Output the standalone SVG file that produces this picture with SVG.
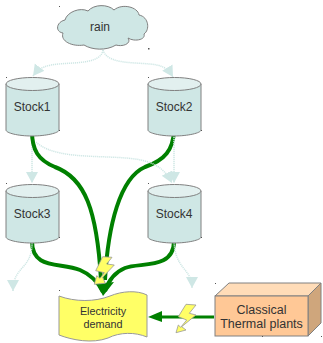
<svg xmlns="http://www.w3.org/2000/svg" width="323" height="343" viewBox="0 0 323 343">
<defs>
<marker id="pale" markerUnits="userSpaceOnUse" markerWidth="13" markerHeight="13" refX="11" refY="6" orient="auto"><path d="M0 0L11 6L0 12Z" fill="#cfe7e5"/></marker>
</defs>
<style>
text{font-family:"Liberation Sans",Arial,sans-serif;font-size:12px;fill:#333;text-anchor:middle}
.body{fill:#cfe7e5;stroke:#808080;stroke-width:1}
.top{fill:#e2f0ef;stroke:#808080;stroke-width:1}
.d{fill:none;stroke:#cfe7e5;stroke-width:1.500;stroke-dasharray:1.200 .8}
.g{fill:none;stroke:#008000;stroke-width:4}
.bolt{fill:#ffff66;stroke:#999;stroke-width:.8}
.dot{fill:#555}
</style>
<g id="connectors">
<path class="d" d="M32 131V183" marker-end="url(#pale)"/>
<path class="g" d="M32 131C32 150 38 160 55 167C85 178 97 210 101 280"/>
<path class="g" d="M174 131C173 150 165 160 145 167C120 178 108 225 105 280"/>
<path class="g" d="M32 241C32 270 60 262 80 270C92 275 98 282 103 292"/>
<path class="g" d="M174 241C174 270 140 262 125 268C113 273 108 282 105 291"/>
<path d="M97 284L114 282L103 296Z" fill="#008000"/>
<path class="g" style="stroke-width:3" d="M214 317H160"/>
<path d="M162 311L148 317L162 322Z" fill="#008000"/>
<path class="d" d="M103 50C100 68 60 60 44 67C39 69 36 72 33 76" marker-end="url(#pale)"/>
<path class="d" d="M103 50C108 68 150 60 163 67C167 69 170 72 173 77" marker-end="url(#pale)"/>
<path class="d" d="M174 131V183" marker-end="url(#pale)"/>
<path class="d" d="M36 142C60 165 130 150 155 165C163 169 168 175 172 183" marker-end="url(#pale)"/>
<path class="d" d="M32 241C33 270 13 265 13 291" marker-end="url(#pale)"/>
<path class="d" d="M174 241C175 270 192 268 192 288" marker-end="url(#pale)"/>
</g>
<g id="rain">
<path class="body" d="M65 20C67 12 80 7 88 11C94 4 108 4 114 10C122 3 138 7 139 15C149 17 150 30 144 34C146 40 134 42 128 38C132 44 122 47 116 45C106 51 92 50 84 45C72 47 60 41 63 33C55 32 56 22 65 20Z"/>
<text x="100" y="31">rain</text>
</g>
<g id="stock1"><path class="body" d="M6 84V130C6 133 18 136 32 136S59 133 59 130V84Z"/><ellipse class="top" cx="32.500" cy="84" rx="26.500" ry="6.500"/><text x="32" y="111">Stock1</text></g>
<g id="stock2"><path class="body" d="M148 84V130C148 133 160 136 174 136S201 133 201 130V84Z"/><ellipse class="top" cx="174.500" cy="84" rx="26.500" ry="6.500"/><text x="174" y="111">Stock2</text></g>
<g id="stock3"><path class="body" d="M6 191V237C6 240 18 243 32 243S59 240 59 237V191Z"/><ellipse class="top" cx="32.500" cy="191" rx="26.500" ry="6.500"/><text x="32" y="218">Stock3</text></g>
<g id="stock4"><path class="body" d="M148 191V237C148 240 160 243 174 243S201 240 201 237V191Z"/><ellipse class="top" cx="174.500" cy="191" rx="26.500" ry="6.500"/><text x="174" y="218">Stock4</text></g>
<g id="demand">
<path d="M59 296C75 302 95 302 110 296C122 291 137 290 147 295V337C135 332 120 332 108 338C92 344 72 340 59 335Z" fill="#ffff66" stroke="#999"/>
<text x="103" y="315" style="font-size:10.800px">Electricity</text>
<text x="103" y="327.500" style="font-size:10.800px">demand</text>
</g>
<g id="thermal">
<path d="M215 296L229 283H321L308 296Z" fill="#ffdcb8" stroke="#808080"/>
<path d="M308 296L321 283V323L308 336Z" fill="#cfa67c" stroke="#808080"/>
<rect x="215" y="296" width="93" height="40" fill="#ffc896" stroke="#808080"/>
<text x="261.500" y="314" style="font-size:12.500px">Classical</text>
<text x="261.500" y="328" style="font-size:12.500px">Thermal plants</text>
</g>
<g id="bolt1"><path class="bolt" d="M102.700 256.700L112 257.300L106.700 264L114.300 265L102.700 277.300L105.300 283.300L94.300 284.300L96.700 275.700L100 278.300L104.300 272.700L95.700 270.700Z"/></g>
<g id="bolt2"><path class="bolt" d="M186 304.300L196 305L189.300 313.300L196 315L181.700 326.700L186 330L176 332.700L178.300 325L180.700 327.300L186.700 320L178.300 316.700Z"/></g>
<g id="dots">
<rect class="dot" x="59" y="6" width="1" height="1"/><rect class="dot" x="148" y="48" width="1.500" height="1.500"/>
<rect class="dot" x="6" y="77" width="1" height="1"/><rect class="dot" x="148" y="77" width="1" height="1"/>
<rect class="dot" x="59" y="130" width="1" height="1"/><rect class="dot" x="201" y="130" width="1" height="1"/>
<rect class="dot" x="6" y="183" width="1" height="1"/><rect class="dot" x="148" y="183" width="1" height="1"/>
<rect class="dot" x="59" y="237" width="1" height="1"/><rect class="dot" x="201" y="237" width="1" height="1"/>
<rect class="dot" x="59" y="290" width="1" height="1"/><rect class="dot" x="215" y="283" width="1" height="1"/>
<rect class="dot" x="262" y="336" width="1" height="1"/><rect class="dot" x="321" y="336" width="1" height="1"/>
</g>
</svg>
